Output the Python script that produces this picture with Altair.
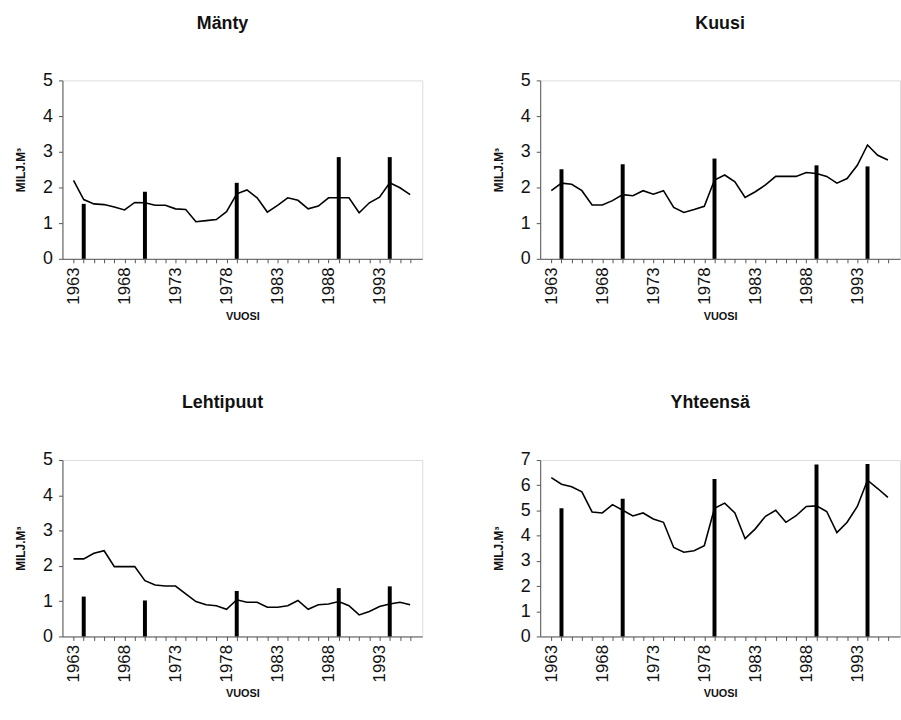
import altair as alt
import pandas as pd

years = list(range(1963, 1997))

manty = [2.20, 1.66, 1.54, 1.52, 1.45, 1.37, 1.58, 1.57, 1.50, 1.50, 1.40, 1.38, 1.04, 1.07, 1.10, 1.32,
         1.82, 1.93, 1.71, 1.31, 1.50, 1.71, 1.64, 1.40, 1.48, 1.71, 1.71, 1.71, 1.29, 1.57, 1.73, 2.13, 1.99, 1.80]
kuusi = [1.91, 2.12, 2.09, 1.91, 1.51, 1.51, 1.63, 1.80, 1.77, 1.91, 1.81, 1.91, 1.44, 1.30, 1.38, 1.47,
         2.21, 2.35, 2.16, 1.72, 1.88, 2.07, 2.31, 2.31, 2.31, 2.42, 2.39, 2.31, 2.12, 2.25, 2.62, 3.19, 2.90, 2.77]
lehti = [2.20, 2.20, 2.36, 2.43, 1.98, 1.98, 1.98, 1.58, 1.46, 1.43, 1.43, 1.21, 0.99, 0.90, 0.87, 0.77,
         1.04, 0.97, 0.97, 0.83, 0.83, 0.87, 1.02, 0.77, 0.90, 0.92, 0.99, 0.87, 0.61, 0.71, 0.85, 0.92, 0.97, 0.90]
yhteensa = [6.30, 6.04, 5.94, 5.74, 4.94, 4.90, 5.23, 5.01, 4.78, 4.90, 4.66, 4.53, 3.53, 3.34, 3.40, 3.60,
            5.09, 5.29, 4.90, 3.88, 4.27, 4.77, 5.01, 4.53, 4.79, 5.16, 5.18, 4.96, 4.12, 4.53, 5.16, 6.20, 5.87, 5.52]

bar_years = [1964, 1970, 1979, 1989, 1994]
manty_bars = [1.54, 1.88, 2.13, 2.85, 2.85]
kuusi_bars = [2.51, 2.65, 2.81, 2.62, 2.59]
lehti_bars = [1.13, 1.02, 1.29, 1.37, 1.42]
yhteensa_bars = [5.09, 5.46, 6.25, 6.82, 6.84]

FONT = "Liberation Sans"


def panel(title, line_vals, bar_vals, ymax, minor, w, h, dx):
    ldf = pd.DataFrame({"year": years, "v": line_vals})
    bdf = pd.DataFrame({"year": bar_years, "v": bar_vals})
    step = 0.5 if minor else 1
    yvals = [round(i * step, 2) for i in range(int(ymax / step) + 1)]
    x = alt.X("year:Q",
              scale=alt.Scale(domain=[1962.4, 1996.7], nice=False, zero=False),
              axis=alt.Axis(values=years, format="d", labelAngle=-90,
                            labelExpr="(datum.value - 1963) % 5 == 0 ? datum.label : ''",
                            labelAlign="right", labelBaseline="middle",
                            tickSize=4, grid=False, title="VUOSI", titleFontSize=11,
                            titleFontWeight="bold", labelFontSize=17, titlePadding=6,
                            domainColor="#555", tickColor="#555", labelPadding=4,
                            labelColor="#111", titleColor="#111"))
    y = alt.Y("v:Q", scale=alt.Scale(domain=[0, ymax], nice=False),
              axis=alt.Axis(values=yvals, format="d",
                            labelExpr="datum.value % 1 == 0 ? datum.label : ''",
                            tickSize=4, grid=False, title="MILJ.M³", titleFontSize=12,
                            titleFontWeight="bold", labelFontSize=18, titlePadding=15,
                            domainColor="#555", tickColor="#555", labelPadding=6,
                            labelColor="#111", titleColor="#111"))
    bars = alt.Chart(bdf).mark_bar(size=4, color="black").encode(x=x, y=y)
    line = alt.Chart(ldf).mark_line(color="black", strokeWidth=1.6).encode(x=x, y=y)
    return alt.layer(bars, line).properties(
        width=w, height=h,
        title=alt.TitleParams(title, fontSize=18, fontWeight="bold", font=FONT,
                              offset=39, color="#111", dx=dx))


p1 = panel("Mänty", manty, manty_bars, 5, True, 363, 180, -20)
p2 = panel("Kuusi", kuusi, kuusi_bars, 5, True, 363, 180, 0)
p3 = panel("Lehtipuut", lehti, lehti_bars, 5, True, 363, 178, -20)
p4 = panel("Yhteensä", yhteensa, yhteensa_bars, 7, False, 363, 178, -10)

chart = alt.vconcat(
    alt.hconcat(p1, p2, spacing=69),
    alt.hconcat(p3, p4, spacing=69),
    spacing=72,
).properties(
    padding={"left": 14, "top": 11, "right": 0, "bottom": 0},
    background="white",
).configure_view(stroke=None).configure(font=FONT)

chart.save("out.html", embed_options={"renderer": "svg", "actions": False})
